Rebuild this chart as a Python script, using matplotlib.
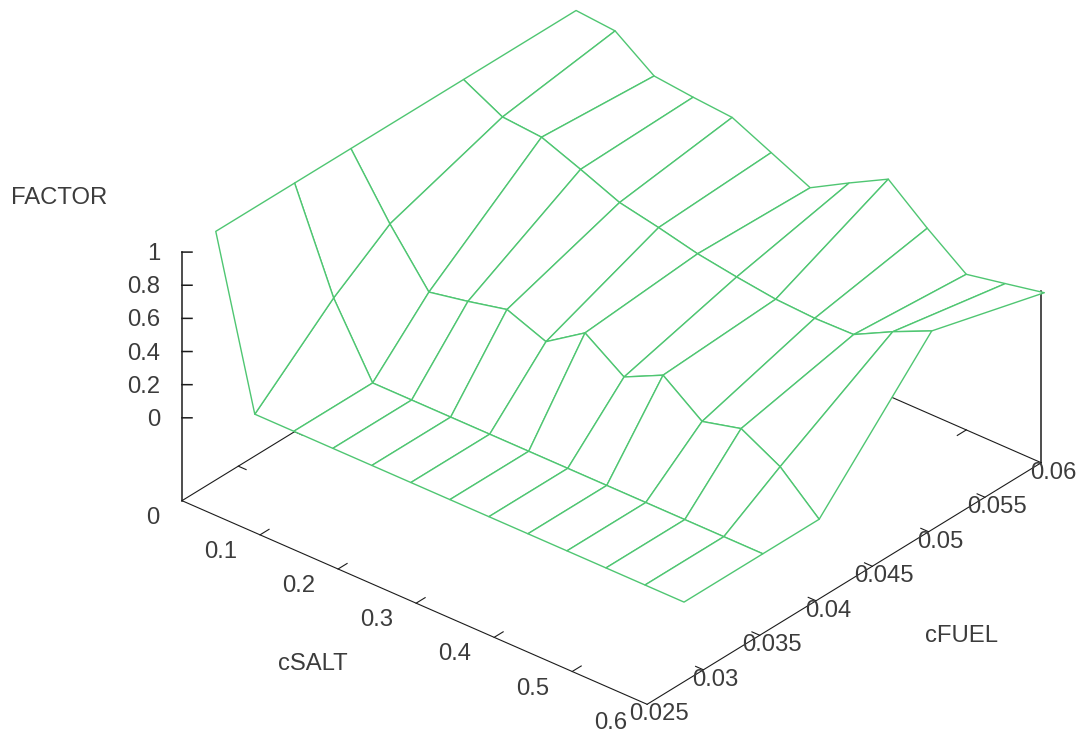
import numpy as np
from matplotlib import pyplot as plt
from mpl_toolkits.mplot3d import proj3d

# griglia dei dati
c_salt = [0, 0.05, 0.1, 0.15, 0.2, 0.25, 0.3, 0.35, 0.4, 0.45, 0.5, 0.55, 0.6]
c_fuel = [0.028, 0.035, 0.04, 0.05, 0.06]

factor_028 = [1.0, 0, 0, 0, 0, 0, 0, 0, 0, 0, 0, 0, 0]
factor_035 = [1.0, 0.41, 0, 0, 0, 0, 0, 0, 0, 0, 0, 0, 0]
factor_040 = [1.0, 0.648, 0.34, 0.387, 0.441, 0.35, 0.506, 0.343, 0.457, 0.281, 0.341, 0.214, 0]
factor_050 = [1.0, 0.877, 0.858, 0.767, 0.67, 0.622, 0.567, 0.53, 0.499, 0.487, 0.492, 0.612, 0.72]
factor_060 = [1.0, 0.98, 0.811, 0.786, 0.767, 0.658, 0.549, 0.681, 0.807, 0.614, 0.439, 0.486, 0.534]

salt_ticks = [0.1, 0.2, 0.3, 0.4, 0.5]
salt_labels = ['0', '0.1', '0.2', '0.3', '0.4', '0.5', '0.6']
fuel_ticks = [0.025, 0.03, 0.035, 0.04, 0.045, 0.05, 0.055, 0.06]
fuel_labels = ['0.025', '0.03', '0.035', '0.04', '0.045', '0.05', '0.055', '0.06']
factor_ticks = [0, 0.2, 0.4, 0.6, 0.8, 1]
factor_labels = ['0', '0.2', '0.4', '0.6', '0.8', '1']

GREEN = '#4fc672'
BLACK = '#1c1c1c'
TEXT = '#3c3c3c'
FONT_SIZE = 17.2
Z_BASE = -0.5
SALT_END = 0.596

plt.rcParams['font.family'] = ['Liberation Sans', 'DejaVu Sans']

fig = plt.figure(figsize=(10.82, 7.38), dpi=100)
side = 1200
ax = fig.add_axes([-3.05 / 1082, -236.3 / 738, side / 1082, side / 738], projection='3d', proj_type='ortho')
ax.computed_zorder = False
ax.set_xlim(0, 0.6, view_margin=0)
ax.set_ylim(0.025, 0.06, view_margin=0)
ax.set_zlim(Z_BASE, 1, view_margin=0)
ax.set_box_aspect((613, 610.5, 290.6), zoom=0.7384)
ax.view_init(elev=31.2, azim=-49.8)
ax.set_axis_off()


def line(xs, ys, zs, lw=0.8):
    ax.plot(xs, ys, zs, color=BLACK, linewidth=lw, zorder=1)


# bordo di base
line([0, SALT_END], [0.025, 0.025], [Z_BASE, Z_BASE])
line([SALT_END, SALT_END], [0.025, 0.06], [Z_BASE, Z_BASE])
line([SALT_END, 0], [0.06, 0.06], [Z_BASE, Z_BASE])
line([0, 0], [0.06, 0.025], [Z_BASE, Z_BASE])
# assi verticali
line([0, 0], [0.025, 0.025], [Z_BASE, 1], lw=1.1)
line([SALT_END, SALT_END], [0.06, 0.06], [Z_BASE, factor_060[-1]], lw=1.1)

# tacche, anche quelle speculari sul lato opposto
for t in salt_ticks:
    line([t, t], [0.025, 0.0258], [Z_BASE, Z_BASE])
    line([t, t], [0.06, 0.0592], [Z_BASE, Z_BASE])
for t in fuel_ticks[1:-1]:
    line([0, 0.01], [t, t], [Z_BASE, Z_BASE])
    line([SALT_END, SALT_END - 0.01], [t, t], [Z_BASE, Z_BASE])
# tacche di FACTOR orizzontali sullo schermo
for t in factor_ticks:
    line([0, 0.0075], [0.025, 0.02537], [t, t], lw=1.1)

# superficie con linee nascoste
X, Y = np.meshgrid(c_salt, c_fuel)
Z = np.array([factor_028, factor_035, factor_040, factor_050, factor_060])
ax.plot_surface(X, Y, Z, rstride=1, cstride=1, color='white', edgecolor=GREEN, linewidth=1.0,
                shade=False, antialiased=True, zorder=2)

proj = ax.get_proj()


def tick_label(x, y, z, text, dx, dy, ha):
    px, py, _ = proj3d.proj_transform(x, y, z, proj)
    ax.annotate(text, xy=(px, py), xytext=(dx, dy), xycoords='data', textcoords='offset pixels',
                ha=ha, va='center', fontsize=FONT_SIZE, color=TEXT, annotation_clip=False, zorder=5)


for label in salt_labels:
    tick_label(float(label), 0.025, Z_BASE, label, -23, -17, 'right')
for t, label in zip(fuel_ticks, fuel_labels):
    tick_label(SALT_END, t, Z_BASE, label, 12, -10, 'center')
for t, label in zip(factor_ticks, factor_labels):
    tick_label(0, 0.025, t, label, -22, -2, 'right')

fig.text(59 / 1082, 1 - 198 / 738, 'FACTOR', ha='center', va='center', fontsize=FONT_SIZE, color=TEXT)
fig.text(313 / 1082, 1 - 664 / 738, 'cSALT', ha='center', va='center', fontsize=FONT_SIZE, color=TEXT)
fig.text(961 / 1082, 1 - 636 / 738, 'cFUEL', ha='center', va='center', fontsize=FONT_SIZE, color=TEXT)

fig.savefig('out.png', dpi=100)
